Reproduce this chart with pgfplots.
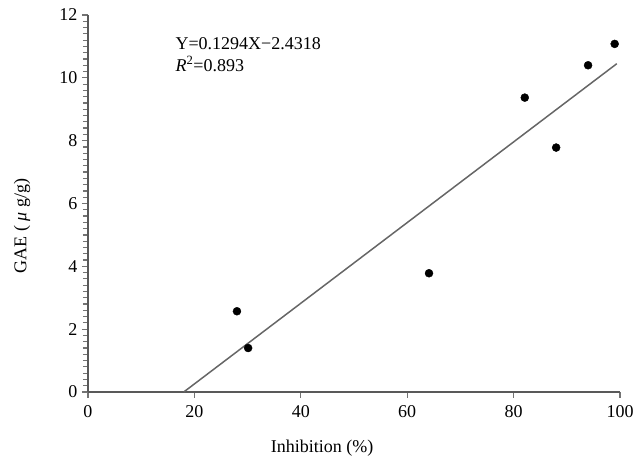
\documentclass[border=0pt]{standalone}
\usepackage{fontspec}
\setmainfont{Liberation Serif}
\usepackage{pgfplots}
\pgfplotsset{compat=1.18}

\begin{document}
\begin{tikzpicture}
\begin{axis}[
    scale only axis,
    width=532pt, height=377pt,
    xmin=0, xmax=100, ymin=0, ymax=12,
    axis lines=left,
    axis line style={-, draw=black!65, line width=1.3pt},
    xtick={0,20,...,100}, ytick={0,2,...,12},
    minor y tick num=9,
    tick align=outside,
    major tick length=6pt, minor tick length=5pt,
    tick style={black!55, line width=1.2pt},
    font=\fontsize{18}{20}\selectfont,
    /pgf/number format/assume math mode=true,
    xticklabel style={yshift=-4pt},
    yticklabel style={xshift=-1pt},
    xlabel={Inhibition (\%)},
    ylabel={GAE ( \textit{μ} g/g)},
    x label style={at={(axis description cs:0.44,0)}, anchor=center, yshift=-56pt},
    y label style={at={(axis description cs:-0.124,0.44)}, anchor=center},
    clip=false,
]
\addplot[only marks, mark=*, mark size=4pt, black] coordinates {
    (28.0, 2.57)
    (30.1, 1.40)
    (64.1, 3.78)
    (82.1, 9.37)
    (88.0, 7.78)
    (94.0, 10.40)
    (99.0, 11.08)
};
\addplot[black!60, line width=1.5pt] coordinates {
    (18.0, 0)
    (99.4, 10.45)
};
\node[anchor=west] at (axis cs:15.8,11.08) {Y=0.1294X−2.4318};
\node[anchor=west] at (axis cs:15.8,10.44) {\textit{R}\textsuperscript{2}=0.893};
\coordinate (o) at (rel axis cs:0,0);
\end{axis}
\pgfresetboundingbox
\path[use as bounding box] ([shift={(-88pt,-68pt)}]o) rectangle ([shift={(555pt,392pt)}]o);
\end{tikzpicture}
\end{document}
